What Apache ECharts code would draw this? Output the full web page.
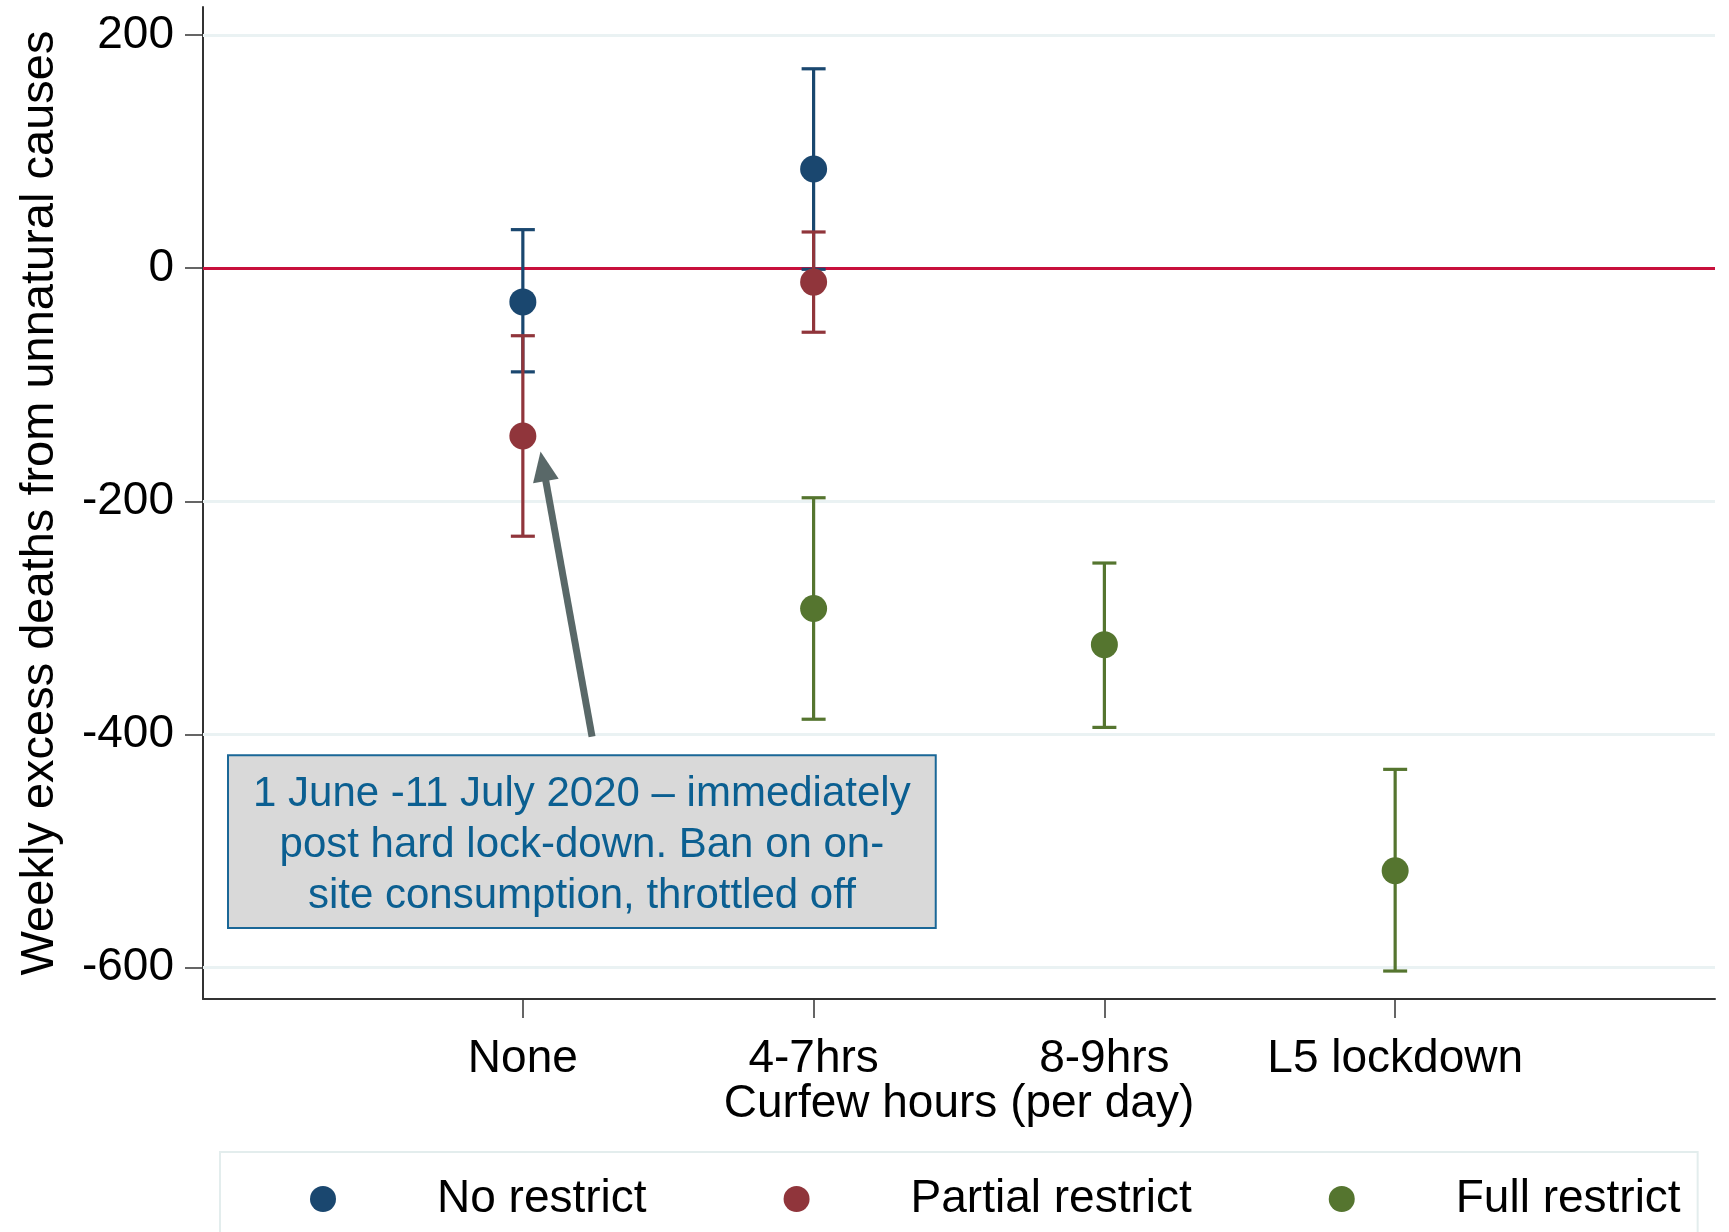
<!DOCTYPE html>
<html>
<head>
<meta charset="utf-8">
<script src="https://cdn.jsdelivr.net/npm/echarts@6/dist/echarts.min.js"></script>
<style>
    html, body { margin: 0; padding: 0; background: #fff; }
    #chart { width: 1729px; height: 1232px; }
</style>
</head>
<body>
<div id="chart"></div>
<script>
// categories on the x axis (placed at 1..4)
const categories = ['None', '4-7hrs', '8-9hrs', 'L5 lockdown'];
const catPos = [1, 2, 3, 4];

// y ticks
const yTicks = [-600, -400, -200, 0, 200];

// No restrict (None, 4-7hrs)
const noPos = [1, 2];
const noMean = [-29, 85];
const noLow = [-89, -1];
const noHigh = [33, 171];

// Partial restrict (None, 4-7hrs)
const partPos = [1, 2];
const partMean = [-144, -12];
const partLow = [-230, -55];
const partHigh = [-58, 31];

// Full restrict (4-7hrs, 8-9hrs, L5 lockdown)
const fullPos = [2, 3, 4];
const fullMean = [-292, -323, -517];
const fullLow = [-387, -394, -603];
const fullHigh = [-197, -253, -430];

// annotation text and where it sits (data coords)
const noteLines = ['1 June -11 July 2020 \u2013 immediately', 'post hard lock-down. Ban on on-', 'site consumption, throttled off'];
const noteBox = [[-0.014, -418], [2.42, -566]];
const arrowFrom = [1.238, -402];
const arrowTo = [1.070, -170];

const FONT = '"Liberation Sans", Arial, Helvetica, sans-serif';
const colors = {
    no: '#1a476f',
    part: '#90353b',
    full: '#55752f'
};

function pts(pos, vals) {
    return pos.map((p, i) => [p, vals[i]]);
}
function bars(pos, lo, hi) {
    return pos.map((p, i) => [p, lo[i], hi[i]]);
}

// 误差线：竖线加上下两个短横
function renderErrorBar(params, api) {
    const x = api.value(0);
    const top = api.coord([x, api.value(2)]);
    const bot = api.coord([x, api.value(1)]);
    const half = 12;
    const style = { stroke: api.visual('color'), lineWidth: 3.2 };
    return {
        type: 'group',
        children: [
            { type: 'line', shape: { x1: top[0], y1: top[1], x2: bot[0], y2: bot[1] }, style: style },
            { type: 'line', shape: { x1: top[0] - half, y1: top[1], x2: top[0] + half, y2: top[1] }, style: style },
            { type: 'line', shape: { x1: bot[0] - half, y1: bot[1], x2: bot[0] + half, y2: bot[1] }, style: style }
        ]
    };
}

function errorSeries(name, color, data) {
    return {
        type: 'custom',
        name: name + ' ci',
        renderItem: renderErrorBar,
        encode: { x: 0, y: [1, 2] },
        itemStyle: { color: color },
        data: data,
        z: 3,
        silent: true
    };
}

function pointSeries(name, color, data) {
    return {
        type: 'scatter',
        name: name,
        symbol: 'circle',
        symbolSize: 27,
        itemStyle: { color: color, opacity: 1 },
        data: data,
        z: 4
    };
}

const chart = echarts.init(document.getElementById('chart'));

const option = {
    animation: false,
    backgroundColor: '#fff',
    textStyle: { fontFamily: FONT },
    grid: { left: 203, right: 14, top: 7, bottom: 233, containLabel: false },
    xAxis: {
        type: 'value',
        min: -0.1,
        max: 5.1,
        name: 'Curfew hours (per day)',
        nameLocation: 'middle',
        nameGap: 82,
        nameMoveOverlap: false,
        nameTextStyle: { fontSize: 46, color: '#000', fontFamily: FONT },
        axisLine: { show: true, onZero: false, lineStyle: { color: '#333', width: 2 } },
        axisTick: { show: true, length: 19, customValues: catPos, lineStyle: { color: '#333', width: 1.5 } },
        axisLabel: {
            customValues: catPos,
            margin: 37,
            fontSize: 46,
            color: '#000',
            fontFamily: FONT,
            formatter: v => categories[catPos.indexOf(Math.round(v))] || ''
        },
        splitLine: { show: false }
    },
    yAxis: {
        type: 'value',
        min: -627,
        max: 224,
        name: 'Weekly excess deaths from unnatural causes',
        nameLocation: 'middle',
        nameRotate: 90,
        nameGap: 139,
        nameMoveOverlap: false,
        nameTextStyle: { fontSize: 47, color: '#000', fontFamily: FONT },
        axisLine: { show: true, onZero: false, lineStyle: { color: '#333', width: 2 } },
        axisTick: { show: true, length: 18, customValues: yTicks, lineStyle: { color: '#333', width: 1.5 } },
        axisLabel: {
            customValues: yTicks,
            margin: 29,
            fontSize: 46,
            color: '#000',
            fontFamily: FONT
        },
        splitLine: { show: false }
    },
    legend: {
        data: ['No restrict', 'Partial restrict', 'Full restrict'],
        left: 220,
        top: 1152,
        orient: 'horizontal',
        icon: 'circle',
        itemWidth: 26,
        itemHeight: 26,
        itemGap: 137,
        padding: [24, 17, 60, 90],
        borderColor: '#e3eded',
        borderWidth: 2,
        selectedMode: false,
        textStyle: { fontSize: 46, color: '#000', fontFamily: FONT, padding: [0, 0, 0, 96] }
    },
    series: [
        // 网格线、零线、注释框和箭头
        {
            type: 'line',
            name: 'guides',
            data: [],
            silent: true,
            z: 1,
            markLine: {
                silent: true,
                symbol: ['none', 'none'],
                label: { show: false },
                z: 1,
                data: yTicks.filter(v => v !== 0).map(v => ({
                    yAxis: v,
                    lineStyle: { color: '#eaf2f3', width: 3, type: 'solid' }
                })).concat([
                    { yAxis: 0, lineStyle: { color: '#c8103c', width: 3, type: 'solid' } },
                    [
                        { coord: arrowFrom, symbol: 'none', lineStyle: { color: '#596868', width: 7, type: 'solid' } },
                        { coord: arrowTo, symbol: 'triangle', symbolSize: [26, 30] }
                    ]
                ])
            },
            markArea: {
                silent: true,
                z: 1,
                itemStyle: { color: '#d9d9d9', borderColor: '#1a6797', borderWidth: 2, opacity: 1 },
                label: {
                    show: true,
                    position: 'inside',
                    offset: [0, 4],
                    fontSize: 42,
                    lineHeight: 51,
                    color: '#0b5f91',
                    fontFamily: FONT,
                    align: 'center',
                    formatter: noteLines.join('\n')
                },
                data: [[{ coord: noteBox[0] }, { coord: noteBox[1] }]]
            }
        },
        errorSeries('No restrict', colors.no, bars(noPos, noLow, noHigh)),
        errorSeries('Partial restrict', colors.part, bars(partPos, partLow, partHigh)),
        errorSeries('Full restrict', colors.full, bars(fullPos, fullLow, fullHigh)),
        pointSeries('No restrict', colors.no, pts(noPos, noMean)),
        pointSeries('Partial restrict', colors.part, pts(partPos, partMean)),
        pointSeries('Full restrict', colors.full, pts(fullPos, fullMean))
    ]
};

chart.setOption(option);
</script>
</body>
</html>
